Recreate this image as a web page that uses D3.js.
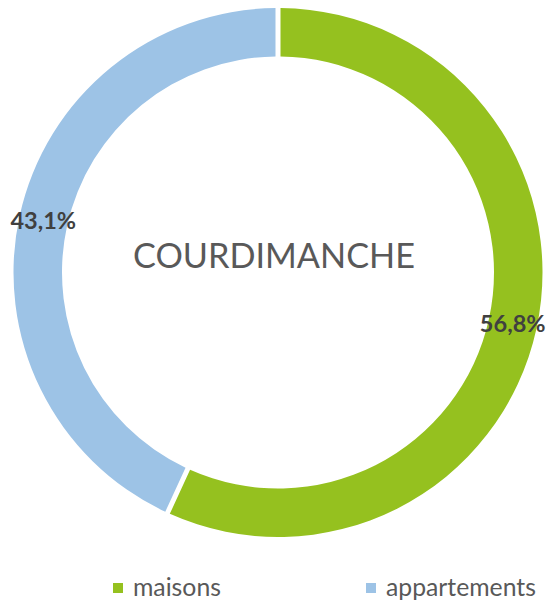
<!DOCTYPE html>
<html><head><meta charset="utf-8">
<script src="https://cdn.jsdelivr.net/npm/d3@7"></script>
<style>body{margin:0;background:#fff}svg{display:block}</style>
</head><body>
<svg id="c" width="546" height="601"></svg>
<script>
const categories = ["maisons", "appartements"];
const values = [56.8, 43.1];
const labels = ["56,8%", "43,1%"];
const colors = ["#95C11F", "#9DC3E6"];
const title = "COURDIMANCHE";

const svg = d3.select("#c");
const cx = 278, cy = 272.5, R = 264.5, r0 = 216;
const pie = d3.pie().sort(null).value(d => d)(values);
const arc = d3.arc().innerRadius(r0).outerRadius(R).padRadius(R).padAngle(5 / R);
const g = svg.append("g").attr("transform", `translate(${cx},${cy})`);
g.selectAll("path").data(pie).join("path")
  .attr("d", arc).attr("fill", (d, i) => colors[i]);

const mid = d3.arc().innerRadius((r0 + R) / 2).outerRadius((r0 + R) / 2);
g.selectAll("text.lab").data(pie).join("text").attr("class", "lab")
  .attr("transform", d => { const c = mid.centroid(d); return `translate(${c[0]},${c[1] + 8})`; })
  .attr("text-anchor", "middle")
  .attr("font-family", "Lato, 'Open Sans', sans-serif")
  .attr("font-weight", "bold").attr("font-size", 23.5).attr("fill", "#404040")
  .text((d, i) => labels[i]);

function fit(sel, w) {
  const len = sel.node().getComputedTextLength();
  const fs = parseFloat(sel.attr("font-size"));
  sel.attr("font-size", fs * w / len);
}

const t = svg.append("text").attr("x", 274).attr("y", 268)
  .attr("text-anchor", "middle").attr("font-family", "Lato, 'Open Sans', sans-serif")
  .attr("font-size", 32).attr("fill", "#595959").text(title);
fit(t, 282);

const legX = [113, 366];
const legW = [88, 150];
categories.forEach((c, i) => {
  svg.append("rect").attr("x", legX[i]).attr("y", 583).attr("width", 10).attr("height", 10)
    .attr("fill", colors[i]);
  const lt = svg.append("text").attr("x", legX[i] + 20).attr("y", 596)
    .attr("font-family", "Lato, 'Open Sans', sans-serif").attr("font-size", 21)
    .attr("fill", "#595959").text(c);
  fit(lt, legW[i]);
});
</script>
</body></html>
